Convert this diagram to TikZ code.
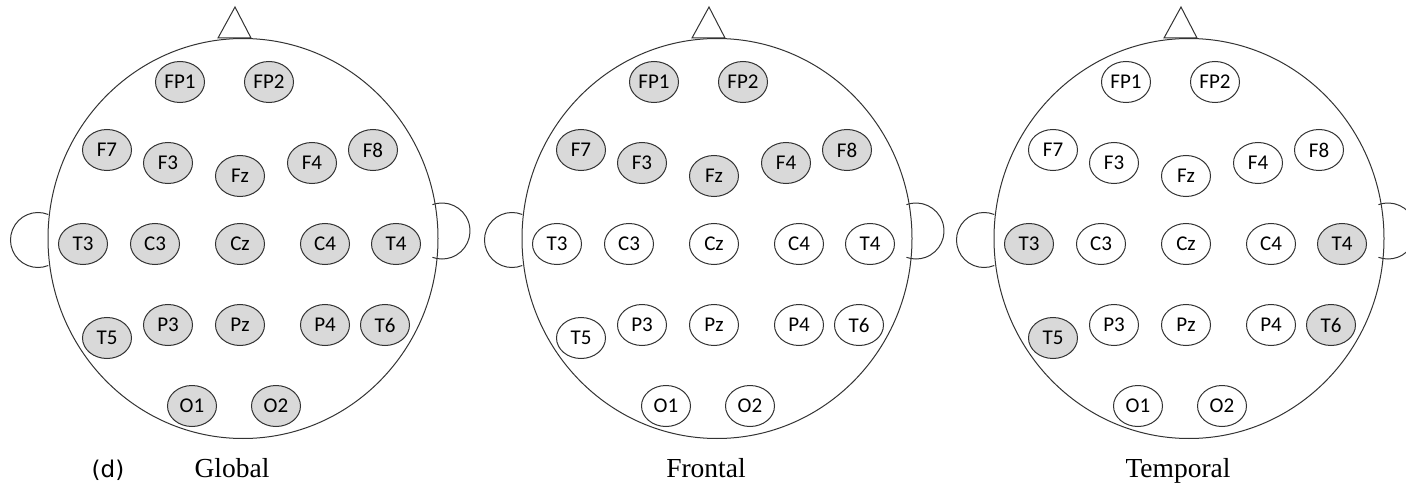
\documentclass[tikz,border=0pt]{standalone}
\usepackage{fontspec}
\newfontfamily\elecfont{Carlito}
\newfontfamily\tagfont{DejaVu Sans}
\newfontfamily\titlefont{Liberation Serif}
\usetikzlibrary{shapes.geometric}

\begin{document}
\begin{tikzpicture}[x=1pt, y=1pt]
\tikzset{
  outline/.style={draw=black!80, line width=1pt},
  electrode/.style={outline, ellipse, minimum width=49pt, minimum height=41pt, inner sep=0pt, font=\elecfont\fontsize{21}{25}\selectfont},
  active/.style={fill=gray!30},
  idle/.style={fill=white},
  regiontitle/.style={anchor=base, font=\titlefont\fontsize{27.5}{32}\selectfont}
}
\useasboundingbox (0,0) rectangle (1406,-484);
\node[anchor=base, font=\tagfont\fontsize{23}{27}\selectfont] (tag) at (108,-477) {(d)};
\foreach \hx/\region/\fr/\tp/\ot in {243/Global/active/active/active, 717/Frontal/active/idle/idle, 1189/Temporal/idle/active/idle} {
  \begin{scope}[shift={(\hx,-238.5)}]
    \tikzset{fr/.style/.expanded=\fr, tp/.style/.expanded=\tp, ot/.style/.expanded=\ot}
    % head, nose and ears
    \draw[outline] (0,0) ellipse [x radius=195, y radius=200];
    \draw[outline] (-25,200.5) -- (-8,231.5) -- (8,200.5) -- cycle;
    \draw[outline] (-205,-1.5) ++(68:27.5) arc[start angle=68, end angle=292, radius=27.5];
    \draw[outline] (199,7.5) ++(110:28) arc[start angle=110, end angle=-110, radius=28];
    % electrodes
    \foreach \lab/\ex/\ey/\cls in {FP1/-63/156.5/fr, FP2/26/156.5/fr, F7/-136/88.5/fr, F3/-75/75.5/fr, Fz/-3/62.5/fr, F4/69/75.5/fr, F8/130/88.5/fr,
        T3/-160/-5.5/tp, C3/-88/-5.5/ot, Cz/-3/-5.5/ot, C4/82/-5.5/ot, T4/153/-5.5/tp,
        T5/-136/-99.5/tp, P3/-75/-86.5/ot, Pz/-3/-86.5/ot, P4/82/-86.5/ot, T6/142/-86.5/tp,
        O1/-51/-167.5/ot, O2/33/-167.5/ot} {
      \node[electrode, \cls] (\region-\lab) at (\ex,\ey) {\lab};
    }
    \node[regiontitle] (\region-title) at (-11,-238.5) {\region};
  \end{scope}
}
\end{tikzpicture}
\end{document}
